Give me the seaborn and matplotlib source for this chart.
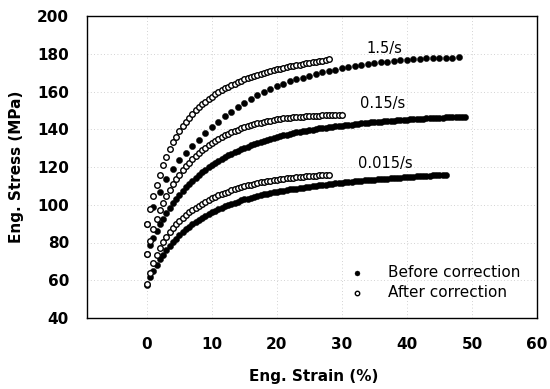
import numpy as np
import pandas as pd
import matplotlib
matplotlib.use("Agg")
import matplotlib.pyplot as plt
import seaborn as sns

# ---------------- data ----------------
rates = ["1.5/s", "0.15/s", "0.015/s"]

# 1.5/s before correction (filled dots, 1 % steps)
strain_b15 = [0, 1, 2, 3, 4, 5, 6, 7, 8, 9, 10, 11, 12, 13, 14, 15, 16, 17, 18, 19, 20,
              21, 22, 23, 24, 25, 26, 27, 28, 29, 30, 31, 32, 33, 34, 35, 36, 37, 38, 39,
              40, 41, 42, 43, 44, 45, 46, 47, 48]
stress_b15 = [90, 99, 107, 113.5, 119, 123.5, 127.5, 131, 134.5, 137.8, 141, 144, 146.8,
              149.4, 151.8, 154, 156, 158, 159.8, 161.4, 162.8, 164.1, 165.3, 166.4, 167.4,
              168.4, 169.3, 170.1, 170.9, 171.6, 172.3, 172.9, 173.5, 174, 174.5, 175,
              175.4, 175.8, 176.2, 176.5, 176.8, 177.1, 177.3, 177.5, 177.7, 177.8, 177.9,
              178, 178.1]

# 1.5/s after correction (open circles, 0.5 % steps)
strain_a15 = [0, 0.5, 1, 1.5, 2, 2.5, 3, 3.5, 4, 4.5, 5, 5.5, 6, 6.5, 7, 7.5, 8, 8.5, 9, 9.5,
              10, 10.5, 11, 11.5, 12, 12.5, 13, 13.5, 14, 14.5, 15, 15.5, 16, 16.5, 17, 17.5,
              18, 18.5, 19, 19.5, 20, 20.5, 21, 21.5, 22, 22.5, 23, 23.5, 24, 24.5, 25, 25.5,
              26, 26.5, 27, 27.5, 28]
stress_a15 = [90, 97.5, 104.5, 110.5, 116, 121, 125.5, 129.5, 133, 136, 139, 141.5, 144,
              146.2, 148.2, 150, 151.7, 153.2, 154.6, 156, 157.3, 158.5, 159.6, 160.6,
              161.6, 162.5, 163.4, 164.2, 165, 165.7, 166.4, 167.1, 167.7, 168.3, 168.9,
              169.4, 169.9, 170.4, 170.9, 171.3, 171.7, 172.1, 172.5, 172.9, 173.3, 173.6,
              174, 174.3, 174.6, 174.9, 175.2, 175.5, 175.8, 176.1, 176.4, 176.7, 177]

# 0.15/s before correction (filled dots, 0.5 % steps)
strain_b015 = [0, 0.5, 1, 1.5, 2, 2.5, 3, 3.5, 4, 4.5, 5, 5.5, 6, 6.5, 7, 7.5, 8, 8.5, 9,
               9.5, 10, 10.5, 11, 11.5, 12, 12.5, 13, 13.5, 14, 14.5, 15, 15.5, 16, 16.5,
               17, 17.5, 18, 18.5, 19, 19.5, 20, 20.5, 21, 21.5, 22, 22.5, 23, 23.5, 24,
               24.5, 25, 25.5, 26, 26.5, 27, 27.5, 28, 28.5, 29, 29.5, 30, 30.5, 31, 31.5,
               32, 32.5, 33, 33.5, 34, 34.5, 35, 35.5, 36, 36.5, 37, 37.5, 38, 38.5, 39,
               39.5, 40, 40.5, 41, 41.5, 42, 42.5, 43, 43.5, 44, 44.5, 45, 45.5, 46, 46.5,
               47, 47.5, 48, 48.5, 49]
stress_b015 = [74, 78.5, 82.5, 86.2, 89.6, 92.7, 95.6, 98.3, 100.8, 103.1, 105.3, 107.3,
               109.2, 111, 112.7, 114.3, 115.8, 117.2, 118.5, 119.8, 121, 122.1, 123.2,
               124.2, 125.2, 126.1, 127, 127.8, 128.6, 129.4, 130.1, 130.8, 131.5, 132.1,
               132.7, 133.3, 133.9, 134.4, 134.9, 135.4, 135.9, 136.3, 136.7, 137.1, 137.5,
               137.9, 138.3, 138.6, 138.9, 139.2, 139.5, 139.8, 140.1, 140.4, 140.7, 140.9,
               141.1, 141.3, 141.5, 141.7, 141.9, 142.1, 142.3, 142.5, 142.7, 142.9, 143.1,
               143.3, 143.4, 143.6, 143.7, 143.9, 144, 144.2, 144.3, 144.5, 144.6, 144.8,
               144.9, 145, 145.1, 145.2, 145.3, 145.4, 145.5, 145.6, 145.7, 145.8, 145.9,
               146, 146.1, 146.2, 146.3, 146.3, 146.4, 146.5, 146.5, 146.6, 146.7]

# 0.15/s after correction (open circles, 0.5 % steps)
strain_a015 = [0, 0.5, 1, 1.5, 2, 2.5, 3, 3.5, 4, 4.5, 5, 5.5, 6, 6.5, 7, 7.5, 8, 8.5, 9,
               9.5, 10, 10.5, 11, 11.5, 12, 12.5, 13, 13.5, 14, 14.5, 15, 15.5, 16, 16.5,
               17, 17.5, 18, 18.5, 19, 19.5, 20, 20.5, 21, 21.5, 22, 22.5, 23, 23.5, 24,
               24.5, 25, 25.5, 26, 26.5, 27, 27.5, 28, 28.5, 29, 29.5, 30]
stress_a015 = [74, 81, 87, 92.5, 97, 101, 104.5, 107.8, 110.8, 113.5, 116, 118.3, 120.4,
               122.3, 124.1, 125.8, 127.4, 128.9, 130.3, 131.6, 132.8, 133.9, 134.9, 135.9,
               136.8, 137.6, 138.4, 139.1, 139.8, 140.4, 141, 141.6, 142.1, 142.6, 143.1,
               143.5, 143.9, 144.3, 144.6, 144.9, 145.2, 145.5, 145.7, 145.9, 146.1, 146.3,
               146.5, 146.6, 146.7, 146.8, 146.9, 147, 147.1, 147.2, 147.3, 147.4, 147.4,
               147.5, 147.5, 147.6, 147.6]

# 0.015/s before correction (filled dots, 0.5 % steps)
strain_b0015 = [0, 0.5, 1, 1.5, 2, 2.5, 3, 3.5, 4, 4.5, 5, 5.5, 6, 6.5, 7, 7.5, 8, 8.5, 9,
                9.5, 10, 10.5, 11, 11.5, 12, 12.5, 13, 13.5, 14, 14.5, 15, 15.5, 16, 16.5,
                17, 17.5, 18, 18.5, 19, 19.5, 20, 20.5, 21, 21.5, 22, 22.5, 23, 23.5, 24,
                24.5, 25, 25.5, 26, 26.5, 27, 27.5, 28, 28.5, 29, 29.5, 30, 30.5, 31, 31.5,
                32, 32.5, 33, 33.5, 34, 34.5, 35, 35.5, 36, 36.5, 37, 37.5, 38, 38.5, 39,
                39.5, 40, 40.5, 41, 41.5, 42, 42.5, 43, 43.5, 44, 44.5, 45, 45.5, 46]
stress_b0015 = [57.5, 61.5, 65, 68.2, 71, 73.6, 76, 78.2, 80.2, 82.1, 83.8, 85.4, 86.9,
                88.3, 89.6, 90.8, 91.9, 93, 94, 95, 95.9, 96.8, 97.6, 98.4, 99.1, 99.8,
                100.5, 101.1, 101.7, 102.3, 102.8, 103.3, 103.8, 104.3, 104.7, 105.1, 105.5,
                105.9, 106.3, 106.6, 106.9, 107.2, 107.5, 107.8, 108.1, 108.4, 108.6, 108.9,
                109.1, 109.4, 109.6, 109.8, 110, 110.3, 110.5, 110.7, 110.9, 111.1, 111.3,
                111.5, 111.7, 111.8, 112, 112.2, 112.4, 112.5, 112.7, 112.9, 113, 113.2,
                113.3, 113.5, 113.6, 113.8, 113.9, 114, 114.2, 114.3, 114.4, 114.5, 114.7,
                114.8, 114.9, 115, 115.1, 115.2, 115.3, 115.4, 115.5, 115.6, 115.7, 115.8,
                115.8]

# 0.015/s after correction (open circles, 0.5 % steps)
strain_a0015 = [0, 0.5, 1, 1.5, 2, 2.5, 3, 3.5, 4, 4.5, 5, 5.5, 6, 6.5, 7, 7.5, 8, 8.5, 9,
                9.5, 10, 10.5, 11, 11.5, 12, 12.5, 13, 13.5, 14, 14.5, 15, 15.5, 16, 16.5,
                17, 17.5, 18, 18.5, 19, 19.5, 20, 20.5, 21, 21.5, 22, 22.5, 23, 23.5, 24,
                24.5, 25, 25.5, 26, 26.5, 27, 27.5, 28]
stress_a0015 = [58, 64, 69, 73.3, 77, 80.2, 83, 85.5, 87.7, 89.7, 91.5, 93.1, 94.6, 96,
                97.3, 98.5, 99.6, 100.6, 101.6, 102.5, 103.4, 104.2, 105, 105.7, 106.4, 107,
                107.6, 108.2, 108.7, 109.2, 109.7, 110.2, 110.6, 111, 111.4, 111.8, 112.1,
                112.4, 112.7, 113, 113.3, 113.6, 113.8, 114, 114.2, 114.4, 114.6, 114.8,
                114.9, 115.1, 115.2, 115.3, 115.4, 115.5, 115.6, 115.7, 115.8]

# positions of the rate labels (strain, stress)
rate_label_x = [36.6, 36.3, 36.6]
rate_label_y = [183, 153.4, 122]

x_ticks = [0, 10, 20, 30, 40, 50, 60]
y_ticks = [40, 60, 80, 100, 120, 140, 160, 180, 200]

# ---------------- build tidy frames ----------------
before = pd.concat([
    pd.DataFrame({"strain": strain_b15, "stress": stress_b15, "rate": rates[0]}),
    pd.DataFrame({"strain": strain_b015, "stress": stress_b015, "rate": rates[1]}),
    pd.DataFrame({"strain": strain_b0015, "stress": stress_b0015, "rate": rates[2]}),
], ignore_index=True)
after = pd.concat([
    pd.DataFrame({"strain": strain_a15, "stress": stress_a15, "rate": rates[0]}),
    pd.DataFrame({"strain": strain_a015, "stress": stress_a015, "rate": rates[1]}),
    pd.DataFrame({"strain": strain_a0015, "stress": stress_a0015, "rate": rates[2]}),
], ignore_index=True)

# ---------------- plot ----------------
sns.set_theme(style="white")
plt.rcParams["font.family"] = ["DejaVu Sans"]
plt.rcParams["text.color"] = "black"
plt.rcParams["axes.labelcolor"] = "black"

fig = plt.figure(figsize=(5.5, 3.89), dpi=100)
ax = fig.add_axes([87 / 550, 1 - 318 / 389, 450 / 550, 302 / 389])

sns.scatterplot(data=before, x="strain", y="stress", ax=ax, marker="o", s=20,
                color="black", edgecolor="black", linewidth=0.3,
                label="Before correction", zorder=3)
sns.scatterplot(data=after, x="strain", y="stress", ax=ax, marker="o", s=16,
                facecolor="white", edgecolor="black", linewidth=1.0,
                label="After correction", zorder=4)

ax.set_xlim(-9.2, 60)
ax.set_ylim(40, 200)
ax.set_xticks(x_ticks)
ax.set_yticks(y_ticks)
ax.grid(True, color="#c4c4c4", linestyle=(0, (1, 3)), linewidth=0.6)
ax.set_axisbelow(True)

for sp in ax.spines.values():
    sp.set_visible(True)
    sp.set_color("black")
    sp.set_linewidth(1.0)

ax.tick_params(axis="x", direction="inout", length=4, width=0.8, pad=12,
               labelsize=11, colors="black")
ax.tick_params(axis="y", direction="in", length=3, width=0.8, pad=13,
               labelsize=11, colors="black")
for lab in ax.get_xticklabels() + ax.get_yticklabels():
    lab.set_fontweight("bold")

ax.set_xlabel("Eng. Strain (%)", fontsize=11, fontweight="bold", color="black")
ax.set_ylabel("Eng. Stress (MPa)", fontsize=11, fontweight="bold", color="black")
ax.xaxis.set_label_coords(0.504, -0.17)
ax.yaxis.set_label_coords(-0.14, 0.5)

for txt, tx, ty in zip(rates, rate_label_x, rate_label_y):
    ax.text(tx, ty, txt, fontsize=10.5, ha="center", va="center", color="black")

leg = ax.legend(loc="upper left", bbox_to_anchor=(0.566, 0.2), frameon=False,
                fontsize=11, handlelength=1.0, handletextpad=1.5, borderpad=0,
                labelspacing=0.3, markerscale=0.8)
for t in leg.get_texts():
    t.set_color("black")

fig.savefig("out.png", dpi=100)
